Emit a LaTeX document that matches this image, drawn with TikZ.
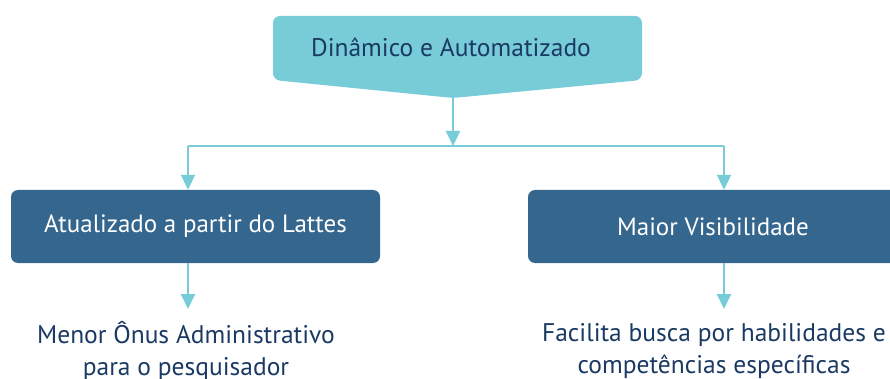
\documentclass[tikz,border=0pt]{standalone}
\usepackage{fontspec}
\setmainfont{PT Sans}
\usetikzlibrary{arrows.meta}
\definecolor{cyanfill}{HTML}{77CCD8}
\definecolor{boxblue}{HTML}{35668E}
\definecolor{navytext}{HTML}{1B3A63}
\begin{document}
\begin{tikzpicture}[x=1pt,y=-1pt,
  conn/.style={draw=cyanfill, line width=2pt, -{Triangle[length=15pt,width=14pt]}},
  plainline/.style={draw=cyanfill, line width=2pt},
  bluebox/.style={fill=boxblue, rounded corners=7pt, text=white, font=\fontsize{25}{30}\selectfont, minimum height=73pt, inner sep=0pt},
  result/.style={text=navytext, align=center, font=\fontsize{25.5}{32}\selectfont, inner sep=0pt}]
\useasboundingbox (0,0) rectangle (890,379);
\clip (0,0) rectangle (890,379);
\fill[cyanfill, rounded corners=7pt] (453,98) -- (273,80) -- (273,16) -- (642,16) -- (642,80) -- cycle;
\node[text=navytext, font=\fontsize{25.5}{30}\selectfont] (top) at (451,47) {Dinâmico e Automatizado};
\coordinate (tip) at (453,97);
\coordinate (junc) at (453,146);
\coordinate (jl) at (188,146);
\coordinate (jr) at (724,146);
\node[bluebox, minimum width=369pt] (left) at (195.5,226.5) {Atualizado a partir do Lattes};
\node[bluebox, minimum width=370pt] (right) at (713,226.5) {Maior Visibilidade};
\node[result] (lt) at (186,351) {Menor Ônus Administrativo\\para o pesquisador};
\node[result] (rt) at (714,351) {Facilita busca por habilidades e\\competências específicas};
\coordinate (lend) at (188,309);
\coordinate (rend) at (724,309);
\draw[conn] (tip) -- (junc);
\draw[plainline] (jl) -- (jr);
\draw[conn] (jl) -- (jl |- left.north);
\draw[conn] (jr) -- (jr |- right.north);
\draw[conn] (left.south -| lend) -- (lend);
\draw[conn] (right.south -| rend) -- (rend);
\end{tikzpicture}
\end{document}
